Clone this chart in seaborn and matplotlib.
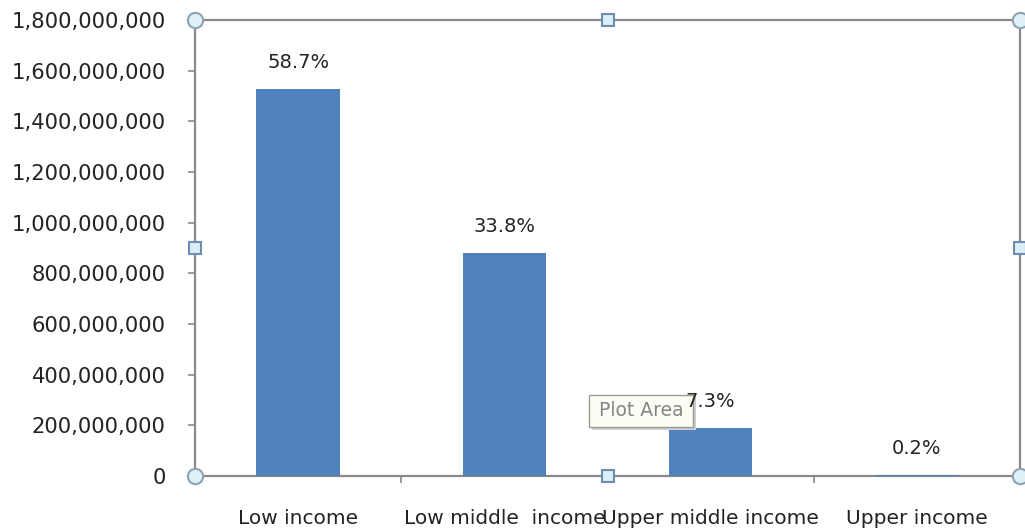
import matplotlib
matplotlib.use("Agg")
import matplotlib.pyplot as plt
import seaborn as sns
import pandas as pd
from matplotlib.ticker import FixedLocator, FuncFormatter
from matplotlib.patches import Rectangle

# Population by income group and axis ticks
categories = ["Low income", "Low middle  income", "Upper middle income", "Upper income"]
population = [1_528_000_000, 880_000_000, 190_000_000, 5_500_000]
y_ticks = [0, 200_000_000, 400_000_000, 600_000_000, 800_000_000,
           1_000_000_000, 1_200_000_000, 1_400_000_000, 1_600_000_000, 1_800_000_000]

total = sum(population)
shares = [p / total for p in population]

df = pd.DataFrame({"group": categories, "population": population})

sns.set_theme(style="white")
plt.rcParams["font.family"] = ["DejaVu Sans"]

TEXT = "#232323"
GRID = "#898989"

W, H = 1025, 532
fig = plt.figure(figsize=(W / 100, H / 100), dpi=100)
fig.patch.set_facecolor("white")
ax = fig.add_axes([195 / W, 1 - 476 / H, 825 / W, 456 / H])

sns.barplot(data=df, x="group", y="population", color="#4F81BD",
            saturation=1, width=0.405, linewidth=0, ax=ax, zorder=3)

ax.set_xlim(-0.5, len(categories) - 0.5)
ax.set_ylim(y_ticks[0], y_ticks[-1])
ax.set_xlabel("")
ax.set_ylabel("")

# y axis
ax.yaxis.set_major_locator(FixedLocator(y_ticks))
ax.yaxis.set_major_formatter(FuncFormatter(lambda v, _: f"{v:,.0f}"))
ax.tick_params(axis="y", which="major", length=5, width=1.2, color=GRID,
               direction="out", pad=16, labelsize=15.2, labelcolor=TEXT, left=True)

# x axis: labels centred, tick marks between categories
ax.set_xticks(range(len(categories)))
ax.set_xticklabels(categories)
ax.set_xticks([i + 0.5 for i in range(len(categories) - 1)], minor=True)
ax.tick_params(axis="x", which="major", length=0, pad=24, labelsize=14.5,
               labelcolor=TEXT)
ax.tick_params(axis="x", which="minor", length=5, width=1.2, color=GRID,
               direction="out", bottom=True)

for side in ["left", "right", "top", "bottom"]:
    ax.spines[side].set_visible(True)
    ax.spines[side].set_color(GRID)
    ax.spines[side].set_linewidth(1.6)

# share labels above the bars
for i, (v, s) in enumerate(zip(population, shares)):
    ax.annotate(f"{s * 100:.1f}%", xy=(i, v), xytext=(0, 19),
                textcoords="offset points", ha="center", va="center",
                fontsize=14, color=TEXT, zorder=6)

# selection handles on the plot area
ax.plot([0, 1, 0, 1], [0, 0, 1, 1], "o", transform=ax.transAxes, clip_on=False,
        ms=11, mfc="#dff1f6", mec="#8ea2b4", mew=1.5, zorder=10)
ax.plot([0.5, 0.5, 0, 1], [0, 1, 0.5, 0.5], "s", transform=ax.transAxes,
        clip_on=False, ms=8.5, mfc="#d8eefa", mec="#6f8db0", mew=1.5, zorder=10)

# "Plot Area" tooltip
bx, by = (589 - 195) / 825, (476 - 427) / 456
bw, bh = 104 / 825, 32 / 456
ax.add_patch(Rectangle((bx + 3 / 825, by - 3 / 456), bw, bh, transform=ax.transAxes,
                       facecolor="#cfcfcf", edgecolor="none", clip_on=False, zorder=4))
ax.add_patch(Rectangle((bx, by), bw, bh, transform=ax.transAxes,
                       facecolor="#fdfdf4", edgecolor="#9a9a9a", lw=1,
                       clip_on=False, zorder=5))
ax.text(bx + bw / 2, by + bh / 2, "Plot Area", transform=ax.transAxes,
        ha="center", va="center", fontsize=13.5, color="#858585", zorder=5.5)

fig.savefig("out.png", dpi=100)
